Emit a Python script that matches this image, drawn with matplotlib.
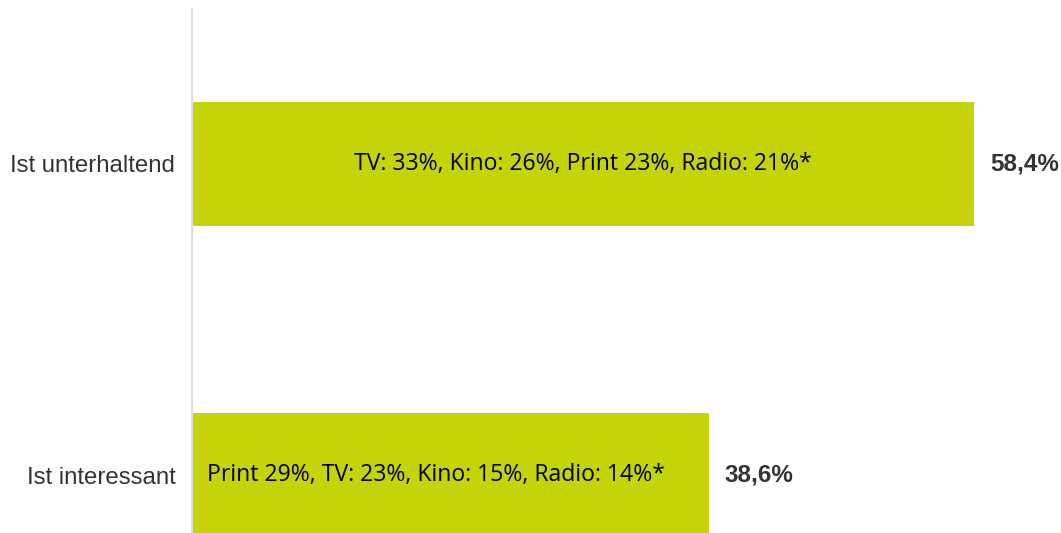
import matplotlib
matplotlib.use('Agg')
import matplotlib.pyplot as plt

# ── Data ──────────────────────────────────────────────
categories = ['Ist unterhaltend', 'Ist interessant']
values = [58.4, 38.6]
value_labels = ['58,4%', '38,6%']
inner_labels = ['TV: 33%, Kino: 26%, Print 23%, Radio: 21%*',
                'Print 29%, TV: 23%, Kino: 15%, Radio: 14%*']

C_BAR = '#c5d30a'
C_TEXT = '#333338'

fig = plt.figure(figsize=(10.61, 5.33), dpi=100)
ax = fig.add_axes([192/1061, 0, 869/1061, 524/533])

y = list(range(len(categories)))
ax.barh(y, values, height=0.4, color=C_BAR, zorder=2)

ax.set_xlim(0, 64.9)
ax.set_ylim(1.186, -0.498)

ax.set_yticks(y)
ax.set_yticklabels(categories, fontsize=17.3, color=C_TEXT,
                   family='Liberation Sans')
ax.tick_params(axis='y', length=0, pad=12)
ax.set_xticks([])

for s in ['top', 'right', 'bottom']:
    ax.spines[s].set_visible(False)
ax.spines['left'].set_color('#dcdce2')
ax.spines['left'].set_linewidth(1.5)

# inner texts
ax.text(values[0] / 2, y[0], inner_labels[0], ha='center', va='center',
        fontsize=16.6, family='Open Sans', color='black', zorder=3)
ax.annotate(inner_labels[1], (0, y[1]), xytext=(11, 0),
            textcoords='offset points', ha='left', va='center',
            fontsize=16.6, family='Open Sans', color='black', zorder=3)

# value labels
for yi, v, lab in zip(y, values, value_labels):
    ax.annotate(lab, (v, yi), xytext=(11.5, 0), textcoords='offset points',
                ha='left', va='center', fontsize=17.5, fontweight='bold',
                family='Liberation Sans', color=C_TEXT)

fig.savefig('out.png', dpi=100)
